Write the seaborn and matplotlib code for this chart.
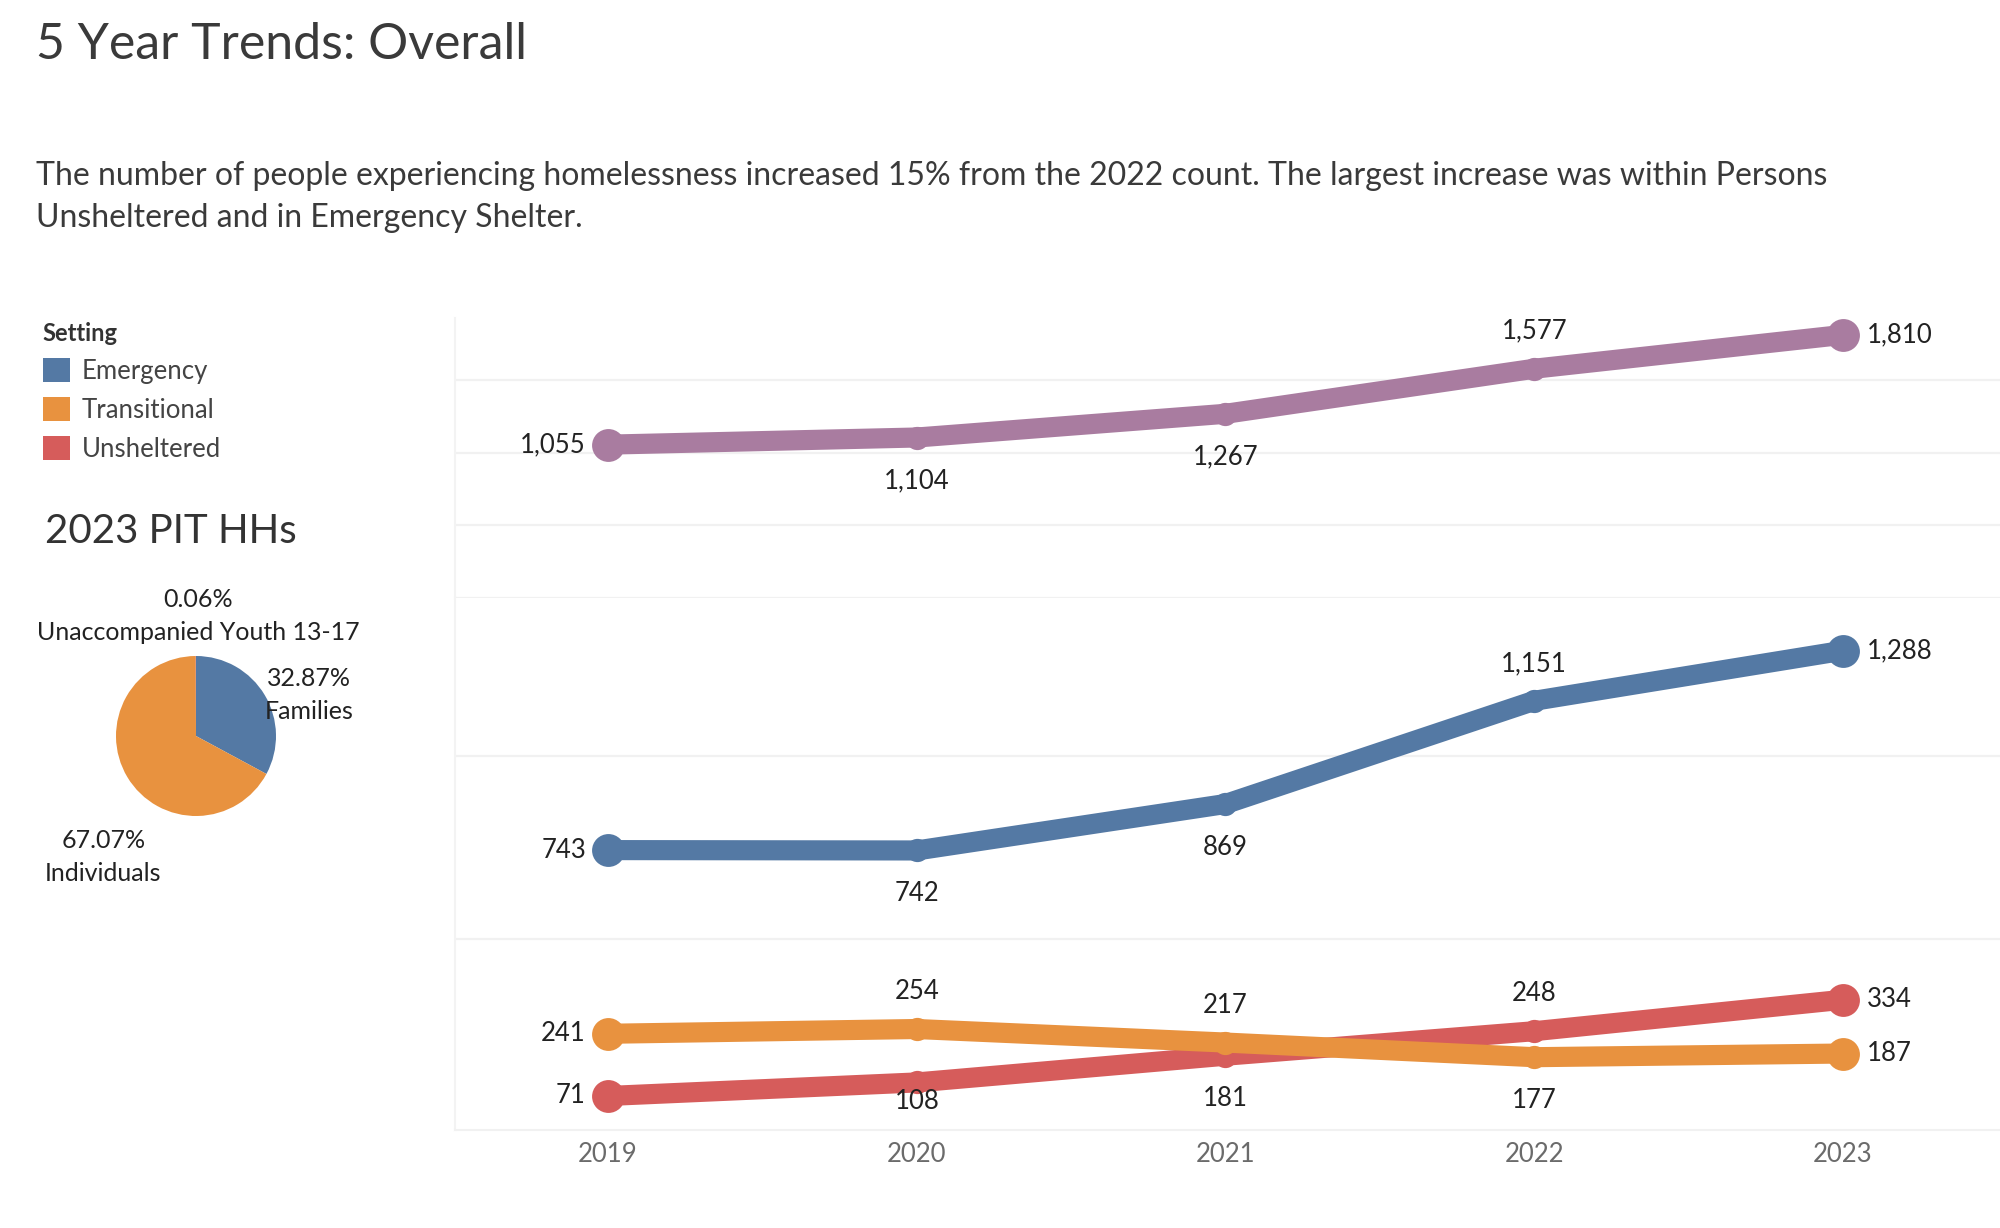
import numpy as np
import pandas as pd
import seaborn as sns
import matplotlib
matplotlib.use('Agg')
import matplotlib.pyplot as plt
from matplotlib.patches import Patch

# values
years = [2019, 2020, 2021, 2022, 2023]
overall = [1055, 1104, 1267, 1577, 1810]
emergency = [743, 742, 869, 1151, 1288]
transitional = [241, 254, 217, 177, 187]
unsheltered = [71, 108, 181, 248, 334]

settings = ['Emergency', 'Transitional', 'Unsheltered']

pie_groups = ['Families', 'Individuals', 'Unaccompanied Youth 13-17']
pie_shares = [32.87, 67.07, 0.06]

title = '5 Year Trends: Overall'
subtitle = ('The number of people experiencing homelessness increased 15% from the 2022 count. '
            'The largest increase was within Persons\nUnsheltered and in Emergency Shelter.')

colors = {'Overall': '#a97ca0', 'Emergency': '#5479a4',
          'Transitional': '#e8923f', 'Unsheltered': '#d65c5b'}

# where each value label sits relative to its point
label_side = {
    'Overall': ['left', 'below', 'below', 'above', 'right'],
    'Emergency': ['left', 'below', 'below', 'above', 'right'],
    'Unsheltered': ['left', 'low', 'below', 'above', 'right'],
    'Transitional': ['left', 'above', 'above', 'below', 'right'],
}
offsets = {'left': (-16, 0, 'right'), 'right': (17, 0, 'left'),
           'above': (0, 27, 'center'), 'below': (0, -31, 'center'),
           'low': (0, -14, 'center')}

sns.set_theme(style='white')
plt.rcParams['font.family'] = ['Lato', 'DejaVu Sans']

W, H = 2000, 1228
fig = plt.figure(figsize=(W / 100, H / 100), dpi=100)


def draw_series(ax, name, values, z):
    df = pd.DataFrame({'Year': years, 'Count': values})
    c = colors[name]
    sns.lineplot(data=df, x='Year', y='Count', ax=ax, color=c, linewidth=14.5,
                 solid_capstyle='round', solid_joinstyle='round', zorder=z)
    sns.scatterplot(data=df.iloc[1:-1], x='Year', y='Count', ax=ax, color=c,
                    s=280, linewidth=0, zorder=z + 0.1)
    sns.scatterplot(data=df.iloc[[0, -1]], x='Year', y='Count', ax=ax, color=c,
                    s=560, linewidth=0, zorder=z + 0.1)
    for yr, v, side in zip(years, values, label_side[name]):
        dx, dy, ha = offsets[side]
        ax.annotate(f'{v:,}', (yr, v), xytext=(dx, dy), textcoords='offset points',
                    ha=ha, va='center', fontsize=18.5, color='#222222',
                    annotation_clip=False, zorder=20)


ax_top = fig.add_axes([455 / W, 1 - 598 / H, 1545 / W, 280 / H])
ax_bot = fig.add_axes([455 / W, 1 - 1130 / H, 1545 / W, 532 / H])

draw_series(ax_top, 'Overall', overall, 3)
draw_series(ax_bot, 'Emergency', emergency, 3)
draw_series(ax_bot, 'Unsheltered', unsheltered, 4)
draw_series(ax_bot, 'Transitional', transitional, 5)

ax_top.set_ylim(0, 1926)
ax_top.set_yticks([0, 500, 1000, 1500])
ax_bot.set_ylim(-22, 1432)
ax_bot.set_yticks([500, 1000])

for ax in (ax_top, ax_bot):
    ax.set_xlim(2018.504, 2023.509)
    ax.grid(axis='y', color='#f1f1f1', linewidth=1.6)
    ax.grid(axis='x', visible=False)
    ax.set_yticklabels([])
    ax.set_xlabel('')
    ax.set_ylabel('')
    ax.tick_params(length=0)
    for s in ('top', 'right', 'bottom'):
        ax.spines[s].set_visible(False)
    ax.spines['left'].set_color('#f3f3f3')
    ax.spines['left'].set_linewidth(1.5)

ax_top.set_xticks([])
ax_bot.set_xticks(years)
ax_bot.set_xticklabels([str(y) for y in years], fontsize=18.5, color='#6b6b6b')
ax_bot.tick_params(axis='x', pad=9)
ax_bot.spines['bottom'].set_visible(True)
ax_bot.spines['bottom'].set_color('#f1f1f1')
ax_bot.spines['bottom'].set_linewidth(1.5)

# header text
fig.text(36 / W, 1 - 45 / H, title, fontsize=36, color='#3a3a3a', va='center')
fig.text(36 / W, 1 - 197 / H, subtitle, fontsize=23, color='#3a3a3a',
         va='center', linespacing=1.5)

# legend
handles = [Patch(facecolor=colors[s], edgecolor='none', label=s) for s in settings]
leg = fig.legend(handles=handles, title='Setting', loc='upper left',
                 bbox_to_anchor=(30 / W, 1 - 309 / H), frameon=False,
                 fontsize=18.5, title_fontproperties={'weight': 'bold', 'size': 17},
                 handlelength=1.05, handleheight=1.05, handletextpad=0.45,
                 labelspacing=0.52, alignment='left', borderpad=0)
for t in leg.get_texts():
    t.set_color('#444444')
leg.get_title().set_color('#333333')

fig.text(45 / W, 1 - 531 / H, '2023 PIT HHs', fontsize=29, color='#333333', va='center')

# pie
ax_pie = fig.add_axes([96 / W, 1 - 836 / H, 200 / W, 200 / H])
pie_colors = [colors['Emergency'], colors['Transitional'], colors['Unsheltered']]
ax_pie.pie(pie_shares, colors=pie_colors, startangle=90, counterclock=False, radius=1,
           wedgeprops={'linewidth': 0})
ax_pie.set_xlim(-1.25, 1.25)
ax_pie.set_ylim(-1.25, 1.25)
pie_label_xy = [(1.41, 0.51), (-1.16, -1.51), (0.025, 1.5)]
for grp, share, (lx, ly) in zip(pie_groups, pie_shares, pie_label_xy):
    ax_pie.text(lx, ly, f'{share:.2f}%\n{grp}', ha='center', va='center', fontsize=18,
                color='#222222', linespacing=1.5, clip_on=False)

fig.savefig('out.png', dpi=100)
